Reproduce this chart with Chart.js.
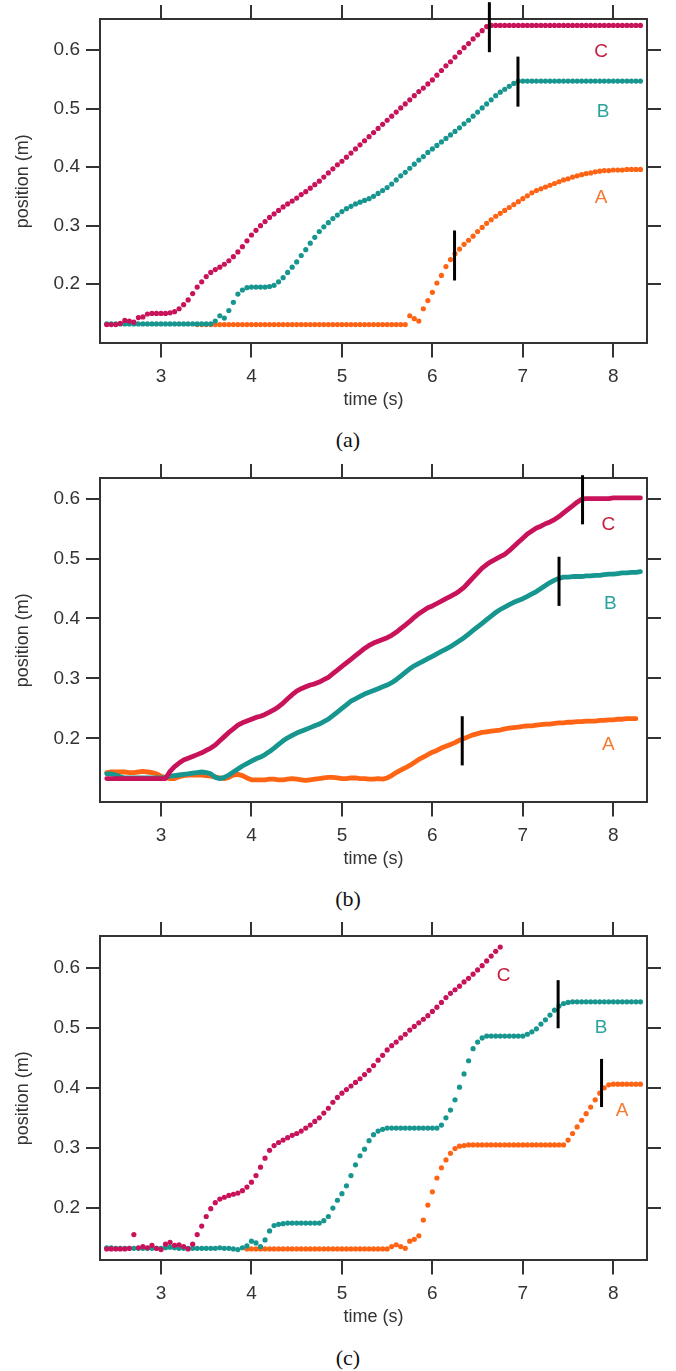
<!DOCTYPE html>
<html><head><meta charset="utf-8">
<script src="https://cdn.jsdelivr.net/npm/chart.js@4.4.0/dist/chart.umd.min.js"></script>
<style>
html,body{margin:0;padding:0;background:#fff;}
#wrap{position:relative;width:676px;height:1371px;overflow:hidden;}
canvas{position:absolute;left:0;}
.cap{position:absolute;left:298px;width:100px;text-align:center;font-family:'Liberation Serif','DejaVu Serif',serif;font-size:22px;line-height:24px;color:#111;}
</style></head><body>
<div id="wrap">
<canvas id="ca" width="676" height="415" style="top:0px"></canvas>
<canvas id="cb" width="676" height="415" style="top:459px"></canvas>
<canvas id="cc" width="676" height="415" style="top:917px"></canvas>
<div class="cap" style="top:428px">(a)</div>
<div class="cap" style="top:887px">(b)</div>
<div class="cap" style="top:1346px">(c)</div>
</div>
<script>
// ---------- DATA ----------
const time = [
2.40,2.45,2.50,2.55,2.60,2.65,2.70,2.75,2.80,2.85,
2.90,2.95,3.00,3.05,3.10,3.15,3.20,3.25,3.30,3.35,
3.40,3.45,3.50,3.55,3.60,3.65,3.70,3.75,3.80,3.85,
3.90,3.95,4.00,4.05,4.10,4.15,4.20,4.25,4.30,4.35,
4.40,4.45,4.50,4.55,4.60,4.65,4.70,4.75,4.80,4.85,
4.90,4.95,5.00,5.05,5.10,5.15,5.20,5.25,5.30,5.35,
5.40,5.45,5.50,5.55,5.60,5.65,5.70,5.75,5.80,5.85,
5.90,5.95,6.00,6.05,6.10,6.15,6.20,6.25,6.30,6.35,
6.40,6.45,6.50,6.55,6.60,6.65,6.70,6.75,6.80,6.85,
6.90,6.95,7.00,7.05,7.10,7.15,7.20,7.25,7.30,7.35,
7.40,7.45,7.50,7.55,7.60,7.65,7.70,7.75,7.80,7.85,
7.90,7.95,8.00,8.05,8.10,8.15,8.20,8.25,8.30];

const xTickValues = [3,4,5,6,7,8];
const yTickValues = [0.2,0.3,0.4,0.5,0.6];
const seriesNames = ['C','B','A'];
const xTitle = 'time (s)';
const yTitle = 'position (m)';
const captions = ['(a)','(b)','(c)'];

// Panel (a)
const a_C = [
0.131,0.131,0.131,0.133,0.138,0.137,0.135,0.143,0.144,0.149,
0.150,0.150,0.150,0.150,0.151,0.153,0.158,0.165,0.173,0.184,
0.195,0.204,0.213,0.220,0.225,0.229,0.234,0.240,0.247,0.255,
0.264,0.274,0.284,0.292,0.300,0.307,0.314,0.320,0.326,0.332,
0.337,0.342,0.347,0.353,0.358,0.364,0.370,0.376,0.383,0.390,
0.397,0.404,0.410,0.417,0.424,0.431,0.438,0.445,0.452,0.459,
0.466,0.473,0.480,0.487,0.494,0.501,0.508,0.515,0.522,0.529,
0.535,0.542,0.549,0.557,0.565,0.573,0.580,0.588,0.596,0.604,
0.611,0.619,0.626,0.633,0.640,0.642,0.642,0.642,0.642,0.642,
0.642,0.642,0.642,0.642,0.642,0.642,0.642,0.642,0.642,0.642,
0.642,0.642,0.642,0.642,0.642,0.642,0.642,0.642,0.642,0.642,
0.642,0.642,0.642,0.642,0.642,0.642,0.642,0.642,0.642];
const a_B = [
0.132,0.132,0.132,0.132,0.132,0.132,0.132,0.132,0.132,0.132,
0.132,0.132,0.132,0.132,0.132,0.132,0.132,0.132,0.132,0.132,
0.132,0.132,0.132,0.132,0.137,0.146,0.142,0.155,0.169,0.183,
0.190,0.194,0.195,0.195,0.195,0.195,0.196,0.198,0.204,0.211,
0.220,0.229,0.238,0.249,0.259,0.270,0.280,0.290,0.298,0.305,
0.312,0.318,0.324,0.329,0.333,0.337,0.340,0.343,0.346,0.350,
0.355,0.360,0.365,0.371,0.378,0.385,0.391,0.398,0.405,0.412,
0.418,0.425,0.431,0.437,0.443,0.449,0.455,0.461,0.467,0.474,
0.480,0.487,0.494,0.501,0.508,0.515,0.522,0.528,0.533,0.538,
0.543,0.547,0.547,0.547,0.547,0.547,0.547,0.547,0.547,0.547,
0.547,0.547,0.547,0.547,0.547,0.547,0.547,0.547,0.547,0.547,
0.547,0.547,0.547,0.547,0.547,0.547,0.547,0.547,0.547];
const a_A = [
null,null,null,null,null,null,null,null,null,null,
null,null,null,null,null,null,null,null,null,null,
0.131,0.131,0.131,0.131,0.131,0.131,0.131,0.131,0.131,0.131,
0.131,0.131,0.131,0.131,0.131,0.131,0.131,0.131,0.131,0.131,
0.131,0.131,0.131,0.131,0.131,0.131,0.131,0.131,0.131,0.131,
0.131,0.131,0.131,0.131,0.131,0.131,0.131,0.131,0.131,0.131,
0.131,0.131,0.131,0.131,0.131,0.131,0.131,0.146,0.141,0.137,
0.158,0.172,0.186,0.202,0.215,0.230,0.242,0.252,0.260,0.268,
0.275,0.282,0.290,0.297,0.304,0.310,0.316,0.321,0.326,0.331,
0.336,0.341,0.346,0.351,0.356,0.360,0.363,0.366,0.369,0.372,
0.375,0.378,0.380,0.383,0.385,0.387,0.389,0.390,0.392,0.393,
0.394,0.394,0.395,0.395,0.395,0.396,0.396,0.396,0.396];

// Panel (b)
const b_C = [
0.133,0.133,0.133,0.133,0.133,0.133,0.133,0.133,0.133,0.133,
0.133,0.133,0.133,0.133,0.145,0.153,0.159,0.164,0.167,0.170,
0.173,0.176,0.180,0.184,0.189,0.196,0.203,0.210,0.216,0.222,
0.226,0.229,0.232,0.235,0.237,0.240,0.244,0.248,0.253,0.259,
0.266,0.273,0.279,0.283,0.286,0.289,0.291,0.294,0.298,0.302,
0.308,0.314,0.320,0.326,0.332,0.338,0.344,0.350,0.355,0.359,
0.362,0.365,0.368,0.372,0.377,0.383,0.389,0.395,0.402,0.408,
0.413,0.418,0.421,0.425,0.429,0.433,0.437,0.441,0.446,0.452,
0.460,0.468,0.476,0.484,0.490,0.495,0.499,0.503,0.507,0.513,
0.520,0.527,0.534,0.541,0.546,0.551,0.554,0.558,0.561,0.565,
0.570,0.576,0.582,0.588,0.594,0.599,0.600,0.600,0.600,0.600,
0.600,0.600,0.601,0.601,0.601,0.601,0.601,0.601,0.601];
const b_B = [
0.141,0.141,0.139,0.136,0.134,0.134,0.134,0.134,0.134,0.134,
0.134,0.134,0.134,0.135,0.137,0.138,0.139,0.140,0.141,0.142,
0.143,0.144,0.143,0.141,0.135,0.133,0.135,0.139,0.144,0.149,
0.154,0.158,0.162,0.166,0.169,0.173,0.178,0.184,0.190,0.196,
0.201,0.205,0.209,0.212,0.215,0.218,0.221,0.224,0.228,0.232,
0.238,0.244,0.250,0.256,0.262,0.266,0.270,0.274,0.277,0.280,
0.283,0.286,0.289,0.293,0.298,0.304,0.310,0.316,0.321,0.325,
0.329,0.333,0.337,0.341,0.345,0.349,0.353,0.358,0.363,0.368,
0.374,0.380,0.386,0.392,0.398,0.404,0.410,0.415,0.419,0.423,
0.427,0.430,0.433,0.437,0.441,0.445,0.450,0.455,0.460,0.464,
0.467,0.469,0.469,0.470,0.470,0.470,0.471,0.471,0.472,0.472,
0.473,0.474,0.474,0.475,0.476,0.476,0.477,0.477,0.478];
const b_A = [
0.143,0.144,0.144,0.144,0.144,0.143,0.143,0.144,0.145,0.144,
0.143,0.141,0.137,0.135,0.133,0.133,0.136,0.138,0.139,0.139,
0.139,0.139,0.138,0.137,0.136,0.134,0.133,0.135,0.139,0.140,
0.138,0.134,0.131,0.131,0.131,0.131,0.132,0.132,0.131,0.131,
0.132,0.133,0.132,0.131,0.130,0.131,0.132,0.133,0.134,0.135,
0.135,0.134,0.133,0.133,0.134,0.134,0.133,0.133,0.132,0.132,
0.133,0.132,0.134,0.138,0.143,0.147,0.151,0.155,0.160,0.165,
0.169,0.173,0.177,0.180,0.184,0.187,0.190,0.193,0.197,0.200,
0.203,0.206,0.208,0.210,0.211,0.212,0.213,0.214,0.216,0.217,
0.218,0.219,0.220,0.221,0.221,0.222,0.223,0.224,0.224,0.225,
0.226,0.226,0.227,0.227,0.228,0.228,0.229,0.229,0.229,0.230,
0.230,0.231,0.231,0.232,0.232,0.233,0.233,0.233,null];

// Panel (c)
const c_C = [
0.132,0.132,0.132,0.132,0.132,0.133,0.156,0.134,0.136,0.134,
0.138,0.133,0.131,0.140,0.143,0.138,0.139,0.136,0.132,0.140,
0.156,0.170,0.186,0.199,0.209,0.215,0.218,0.221,0.223,0.225,
0.229,0.235,0.243,0.254,0.268,0.283,0.296,0.304,0.309,0.313,
0.317,0.321,0.324,0.328,0.333,0.338,0.344,0.350,0.358,0.366,
0.376,0.384,0.391,0.397,0.403,0.409,0.415,0.422,0.429,0.437,
0.446,0.454,0.463,0.470,0.476,0.483,0.489,0.496,0.502,0.508,
0.514,0.520,0.527,0.534,0.542,0.550,0.557,0.563,0.569,0.576,
0.582,0.589,0.596,0.603,0.611,0.619,0.627,0.634,null,null,
null,null,null,null,null,null,null,null,null,null,
null,null,null,null,null,null,null,null,null,null,
null,null,null,null,null,null,null,null,null];
const c_B = [
0.134,0.134,0.133,0.133,0.133,0.133,0.133,0.133,0.133,0.133,
0.133,0.133,0.133,0.134,0.135,0.134,0.133,0.133,0.133,0.133,
0.133,0.133,0.133,0.133,0.133,0.134,0.133,0.133,0.132,0.131,
0.134,0.137,0.145,0.142,0.136,0.147,0.162,0.171,0.173,0.174,
0.175,0.175,0.175,0.175,0.175,0.175,0.175,0.175,0.179,0.186,
0.200,0.213,0.224,0.237,0.254,0.272,0.287,0.298,0.312,0.322,
0.328,0.331,0.333,0.333,0.333,0.333,0.333,0.333,0.333,0.333,
0.333,0.333,0.333,0.333,0.338,0.350,0.363,0.380,0.401,0.423,
0.445,0.465,0.476,0.483,0.486,0.486,0.486,0.486,0.486,0.486,
0.486,0.486,0.486,0.489,0.493,0.498,0.506,0.513,0.521,0.529,
0.536,0.540,0.542,0.543,0.543,0.543,0.543,0.543,0.543,0.543,
0.543,0.543,0.543,0.543,0.543,0.543,0.543,0.543,0.543];
const c_A = [
null,null,null,null,null,null,null,null,null,null,
null,null,null,null,null,null,null,null,null,null,
null,null,null,null,null,null,null,null,null,null,
null,0.132,0.132,0.132,0.132,0.132,0.132,0.132,0.132,0.132,
0.132,0.132,0.132,0.132,0.132,0.132,0.132,0.132,0.132,0.132,
0.132,0.132,0.132,0.132,0.132,0.132,0.132,0.132,0.132,0.132,
0.132,0.132,0.132,0.136,0.139,0.136,0.133,0.145,0.148,0.154,
0.180,0.205,0.227,0.250,0.267,0.280,0.291,0.299,0.303,0.304,
0.305,0.305,0.305,0.305,0.305,0.305,0.305,0.305,0.305,0.305,
0.305,0.305,0.305,0.305,0.305,0.305,0.305,0.305,0.305,0.305,
0.305,0.305,0.313,0.324,0.335,0.346,0.357,0.368,0.380,0.391,
0.400,0.405,0.406,0.406,0.406,0.406,0.406,0.406,0.406];

// transition markers (time, position) per panel, order C,B,A
const a_markT = [6.63, 6.946, 6.245];
const a_markV = [0.639, 0.546, 0.249];
const b_markT = [7.66, 7.40, 6.33];
const b_markV = [0.598, 0.462, 0.196];
const c_markT = [7.39, 7.87];
const c_markV = [0.539, 0.408];

// series letter label anchors (time, position), order C,B,A
const a_labT = [7.864, 7.886, 7.864];
const a_labV = [0.597, 0.495, 0.347];
const b_labT = [7.945, 7.967, 7.945];
const b_labV = [0.556, 0.425, 0.189];
const c_labT = [6.787, 7.864, 8.096];
const c_labV = [0.587, 0.499, 0.362];

// ---------- STYLE ----------
const FONT = "'Liberation Sans', Arial, Helvetica, sans-serif";
const INK = '#333333';
const seriesColors = ['#c8125a', '#16968f', '#ff6414'];
const letterColors = ['#c41e3e', '#2aa39e', '#f47a30'];
const X_MIN = 2.3257, X_MAX = 8.3725;
Chart.defaults.font.family = FONT;
Chart.defaults.color = INK;

function pts(vals) { return time.map((t, i) => ({x: t, y: vals[i]})); }

const letterPlugin = {
  id: 'letters',
  afterDatasetsDraw(chart, args, opts) {
    const ctx = chart.ctx, xs = chart.scales.x, ys = chart.scales.y;
    ctx.save();
    ctx.font = '19px ' + FONT;
    ctx.textAlign = 'center';
    ctx.textBaseline = 'middle';
    opts.t.forEach((t, i) => {
      ctx.fillStyle = letterColors[i];
      ctx.fillText(seriesNames[i], xs.getPixelForValue(t), ys.getPixelForValue(opts.v[i]));
    });
    ctx.restore();
  }
};

function scales(yMin, yMax, canvasH) {
  const grid = {drawOnChartArea: false, drawTicks: true, tickLength: 14, color: INK, tickColor: INK, lineWidth: 2, tickWidth: 2};
  const border = {display: true, color: INK, width: 2};
  const xt = s => { s.ticks = xTickValues.map(v => ({value: v})); };
  const yt = s => { s.ticks = yTickValues.map(v => ({value: v})); };
  return {
    x: {type: 'linear', axis: 'x', position: 'bottom', min: X_MIN, max: X_MAX, afterBuildTicks: xt,
        grid, border,
        ticks: {font: {size: 19}, color: INK, padding: 8, maxRotation: 0, autoSkip: false, callback: v => String(v)},
        title: {display: true, text: xTitle, color: INK, font: {size: 18}, padding: {top: 0, bottom: 4}},
        afterFit: s => { s.height = canvasH - 343.4; }},
    x2: {type: 'linear', axis: 'x', position: 'top', min: X_MIN, max: X_MAX, afterBuildTicks: xt,
        grid, border, ticks: {callback: () => '', padding: 0},
        afterFit: s => { s.height = 19; }},
    y: {type: 'linear', axis: 'y', position: 'left', min: yMin, max: yMax, afterBuildTicks: yt,
        grid, border,
        ticks: {font: {size: 19}, color: INK, padding: 6, autoSkip: false, callback: v => Number(v).toFixed(1)},
        title: {display: true, text: yTitle, color: INK, font: {size: 18}, padding: {top: 12, bottom: 0}},
        afterFit: s => { s.width = 100; }},
    y2: {type: 'linear', axis: 'y', position: 'right', min: yMin, max: yMax, afterBuildTicks: yt,
        grid, border, ticks: {callback: () => '', padding: 0},
        afterFit: s => { s.width = 29; }}
  };
}

function markerSets(ts, vs, half) {
  return ts.map((t, i) => ({
    data: [{x: t, y: vs[i] - half}, {x: t, y: vs[i] + half}],
    showLine: true, borderColor: '#000', borderWidth: 3, pointRadius: 0, clip: false, borderCapStyle: 'butt'
  }));
}

function dotSet(vals, i) {
  return {data: pts(vals), showLine: false, pointRadius: 2.6, pointBorderWidth: 0,
          pointBackgroundColor: seriesColors[i], borderColor: seriesColors[i], backgroundColor: seriesColors[i]};
}
function lineSet(vals, i) {
  return {data: pts(vals), showLine: true, borderWidth: 4.8, pointRadius: 0, borderColor: seriesColors[i],
          borderCapStyle: 'round', borderJoinStyle: 'round', tension: 0, spanGaps: false};
}

function make(id, datasets, yMin, yMax, labT, labV) {
  const cv = document.getElementById(id);
  new Chart(cv, {
    type: 'line',
    data: {datasets},
    options: {
      responsive: false, animation: false, devicePixelRatio: 1, events: [],
      layout: {padding: 0},
      parsing: true,
      plugins: {legend: {display: false}, tooltip: {enabled: false}, letters: {t: labT, v: labV}},
      scales: scales(yMin, yMax, cv.height)
    },
    plugins: [letterPlugin]
  });
}

make('ca', [...markerSets(a_markT, a_markV, 0.0427), dotSet(a_C,0), dotSet(a_B,1), dotSet(a_A,2)],
     0.0988, 0.6530, a_labT, a_labV);
make('cb', [...markerSets(b_markT, b_markV, 0.041), lineSet(b_C,0), lineSet(b_B,1), lineSet(b_A,2)],
     0.0933, 0.6343, b_labT, b_labV);
make('cc', [...markerSets(c_markT, c_markV, 0.040), dotSet(c_C,0), dotSet(c_B,1), dotSet(c_A,2)],
     0.1130, 0.6524, c_labT, c_labV);
</script>
</body></html>
